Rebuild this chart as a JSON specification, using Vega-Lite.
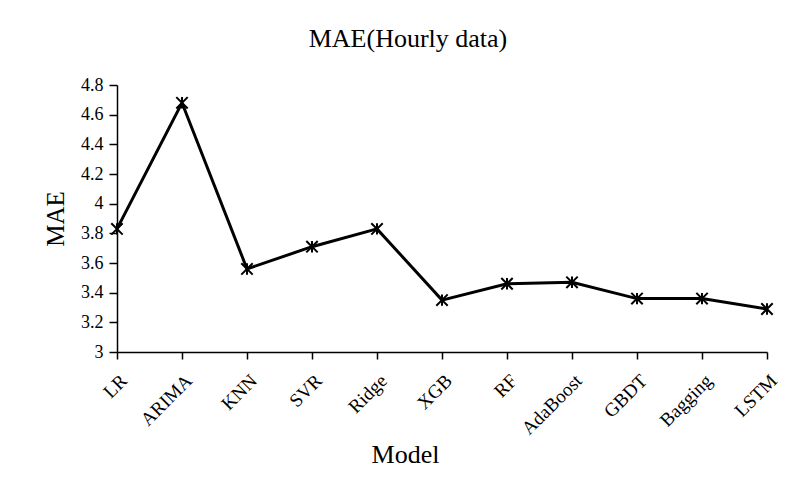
{
  "$schema": "https://vega.github.io/schema/vega-lite/v6.json",
  "width": 650,
  "height": 267,
  "autosize": {"type": "none"},
  "padding": {"left": 117, "top": 85, "right": 31, "bottom": 150},
  "background": "white",
  "title": {
    "text": "MAE(Hourly data)",
    "font": "Liberation Serif",
    "fontSize": 26,
    "fontWeight": "normal",
    "color": "black",
    "anchor": "middle",
    "dx": -34,
    "offset": 24
  },
  "config": {
    "view": {"stroke": null},
    "axis": {
      "labelFont": "Liberation Serif",
      "titleFont": "Liberation Serif",
      "labelColor": "black",
      "titleColor": "black",
      "domainColor": "black",
      "tickColor": "black",
      "domainWidth": 1.5,
      "tickWidth": 1.5,
      "grid": false
    }
  },
  "data": {
    "values": [
      {"Model": "LR", "MAE": 3.83},
      {"Model": "ARIMA", "MAE": 4.68},
      {"Model": "KNN", "MAE": 3.56},
      {"Model": "SVR", "MAE": 3.71},
      {"Model": "Ridge", "MAE": 3.83},
      {"Model": "XGB", "MAE": 3.35},
      {"Model": "RF", "MAE": 3.46},
      {"Model": "AdaBoost", "MAE": 3.47},
      {"Model": "GBDT", "MAE": 3.36},
      {"Model": "Bagging", "MAE": 3.36},
      {"Model": "LSTM", "MAE": 3.29}
    ]
  },
  "encoding": {
    "x": {
      "field": "Model",
      "type": "ordinal",
      "sort": null,
      "scale": {"type": "point", "padding": 0},
      "axis": {
        "title": "Model",
        "titleFontSize": 26,
        "titleFontWeight": "normal",
        "titleX": 288,
        "titleY": 110,
        "titleAlign": "center",
        "titleBaseline": "alphabetic",
        "labelAngle": -45,
        "labelFontSize": 19,
        "labelPadding": 12,
        "tickSize": 7
      }
    },
    "y": {
      "field": "MAE",
      "type": "quantitative",
      "scale": {"domain": [3, 4.8], "nice": false, "zero": false},
      "axis": {
        "title": "MAE",
        "titleFontSize": 25,
        "titleFontWeight": "normal",
        "titleX": -54,
        "titleY": 133.5,
        "titleAngle": -90,
        "titleAlign": "center",
        "titleBaseline": "alphabetic",
        "values": [3, 3.2, 3.4, 3.6, 3.8, 4, 4.2, 4.4, 4.6, 4.8],
        "format": "~g",
        "labelFontSize": 18,
        "tickSize": 8,
        "labelPadding": 6
      }
    }
  },
  "layer": [
    {"mark": {"type": "line", "color": "black", "strokeWidth": 3}},
    {
      "mark": {
        "type": "point",
        "shape": "M-1,-1L1,1M-1,1L1,-1M0,-1L0,1",
        "filled": false,
        "stroke": "black",
        "strokeWidth": 2,
        "size": 130,
        "opacity": 1
      }
    }
  ]
}
